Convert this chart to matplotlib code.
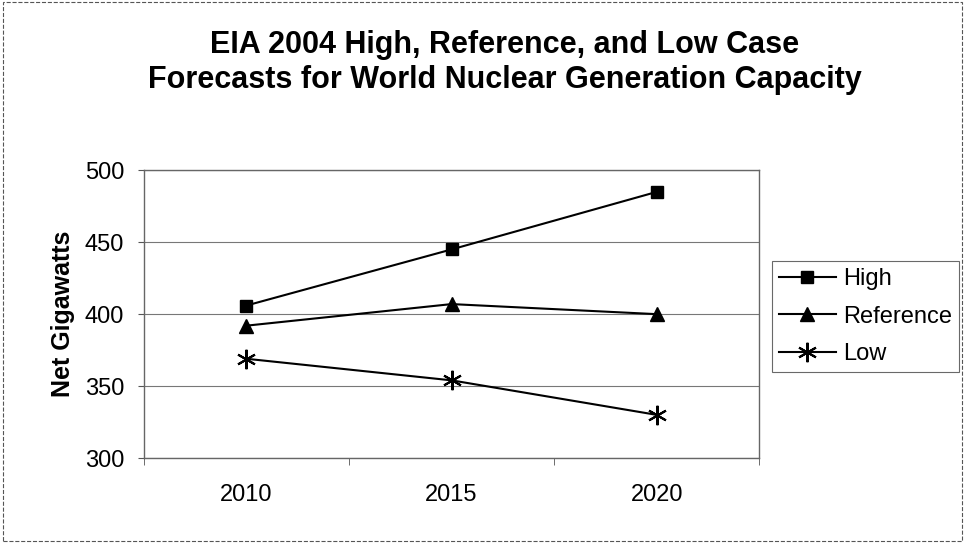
import matplotlib.pyplot as plt
from matplotlib.patches import Rectangle

plt.rcParams['font.family'] = ['Liberation Sans', 'DejaVu Sans']

years = ["2010", "2015", "2020"]
high = [406, 445, 485]
reference = [392, 407, 400]
low = [369, 354, 330]
y_ticks = [300, 350, 400, 450, 500]

fig = plt.figure(figsize=(9.65, 5.44), dpi=100)
ax = fig.add_axes([0.149, 0.158, 0.638, 0.529])

x = list(range(len(years)))
ax.plot(x, high, color='black', lw=1.5, marker='s', ms=8, label='High')
ax.plot(x, reference, color='black', lw=1.5, marker='^', ms=10, label='Reference')
ax.plot(x, low, color='black', lw=1.5, marker=(6, 2, 0), ms=14, mew=1.5, label='Low')

ax.set_xlim(-0.5, 2.5)
ax.set_ylim(300, 500)
ax.set_yticks(y_ticks)
ax.set_xticks(x)
ax.set_xticklabels(years)
ax.set_xticks([-0.5, 0.5, 1.5, 2.5], minor=True)
ax.tick_params(axis='x', which='major', length=0, pad=19, labelsize=17)
ax.tick_params(axis='x', which='minor', length=5, direction='out', color='#555555')
ax.tick_params(axis='y', length=4, direction='out', labelsize=17, pad=10, color='#555555')
ax.grid(axis='y', color='#777777', lw=0.8)
ax.set_axisbelow(True)
for s in ax.spines.values():
    s.set_color('#666666')
    s.set_linewidth(1.0)

ax.set_ylabel('Net Gigawatts', fontsize=18, fontweight='bold', labelpad=7)

fig.text(0.523, 0.885, 'EIA 2004 High, Reference, and Low Case\nForecasts for World Nuclear Generation Capacity',
         ha='center', va='center', fontsize=22, fontweight='bold', linespacing=1.25)

leg = fig.legend(loc='upper left', bbox_to_anchor=(0.800, 0.52), fontsize=17,
                 frameon=True, fancybox=False, edgecolor='#444444',
                 handlelength=2.4, handletextpad=0.3, labelspacing=0.65,
                 borderpad=0.3, borderaxespad=0)
leg.get_frame().set_linewidth(0.8)

fig.patches.append(Rectangle((0.003, 0.006), 0.994, 0.99, transform=fig.transFigure,
                             fill=False, edgecolor='#555555', lw=0.8, ls='--'))

fig.savefig('out.png', dpi=100)
